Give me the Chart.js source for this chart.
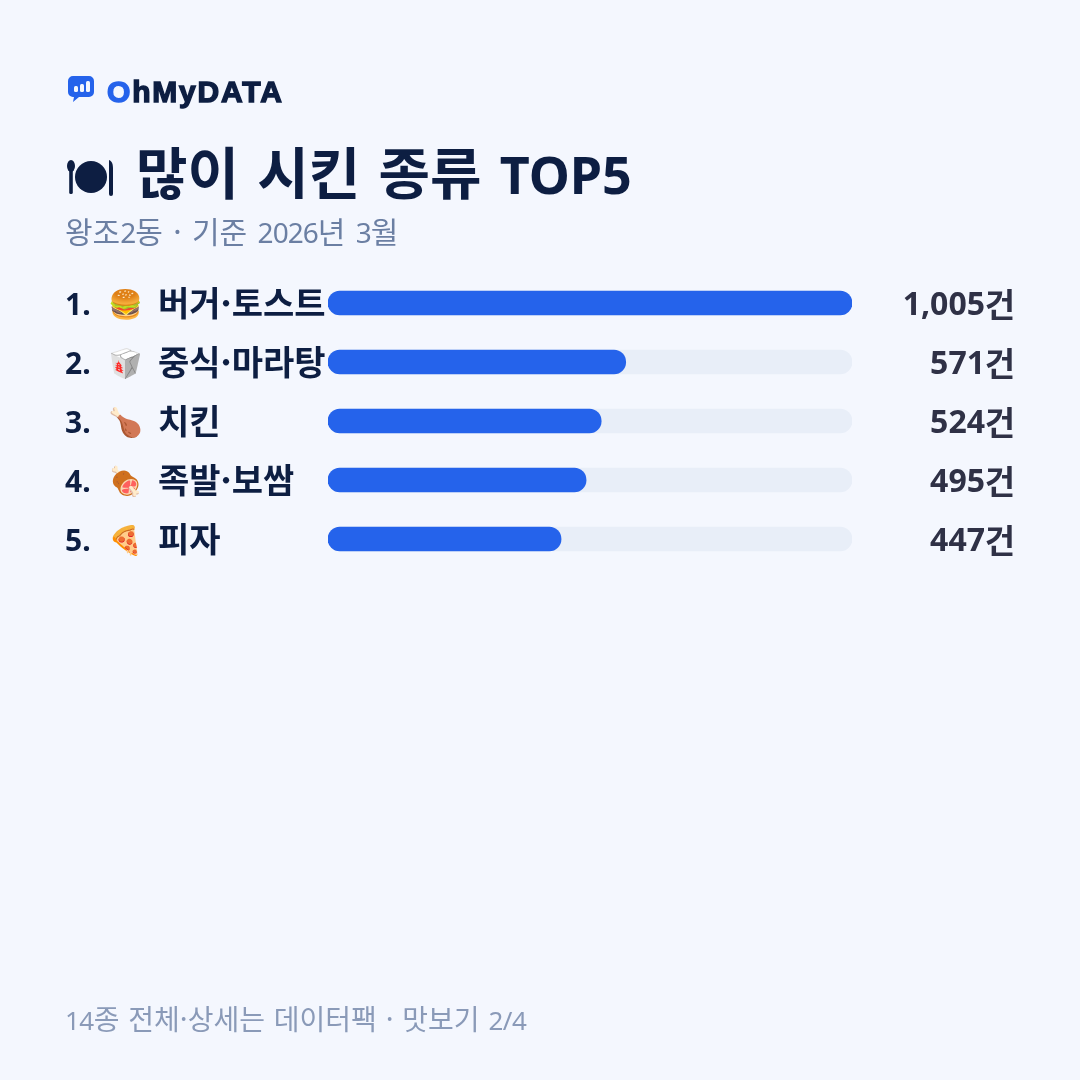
<!DOCTYPE html>
<html lang="ko">
<head>
<meta charset="utf-8">
<title>많이 시킨 종류 TOP5</title>
<script src="https://cdn.jsdelivr.net/npm/chart.js@4"></script>
<style>
  html, body { margin: 0; padding: 0; background: #f4f7fe; }
  #card { position: relative; width: 1080px; height: 1080px; overflow: hidden; background: #f4f7fe;
          font-family: "Noto Sans CJK KR", "Noto Sans", sans-serif; }
  #card canvas { position: absolute; left: 0; top: 0; }
  .abs { position: absolute; white-space: nowrap; line-height: 1; }
  .lat { font-family: "Noto Sans", sans-serif; }
  #brand { left: 107px; top: 75px; font: 700 30px "Liberation Sans", sans-serif; color: #0d1e42;
           -webkit-text-stroke: 1.4px currentColor; letter-spacing: 1.8px; }
  #brand b { color: #2563eb; }
  #title { left: 136px; top: 142px; font-size: 56px; font-weight: 700; color: #0d1e42; word-spacing: 2.5px; }
  #title .lat { font-size: 52px; }
  #sub { left: 65px; top: 215px; font-size: 30px; color: #6b7fa3; word-spacing: 2px; }
  #sub .lat { font-size: 28px; letter-spacing: -1px; }
  #foot { left: 65px; top: 1004px; font-size: 28px; color: #8a9ab8; word-spacing: 1px; }
  #foot .lat { font-size: 26px; letter-spacing: -.5px; }
  #logo { position: absolute; left: 68px; top: 76px; }
  #plate { position: absolute; left: 65px; top: 155px; }
</style>
</head>
<body>
<div id="card">
  <canvas id="chart" width="1080" height="1080"></canvas>
  <svg id="logo" width="26" height="26" viewBox="0 0 26 26">
    <path fill="#2563eb" d="M5 0h16a5 5 0 0 1 5 5v11a5 5 0 0 1-5 5H11l-6 5 1-5H5a5 5 0 0 1-5-5V5a5 5 0 0 1 5-5z"/>
    <rect x="6" y="10" width="4" height="6" rx="1.5" fill="#f4f7fe"/>
    <rect x="12" y="8" width="4" height="8" rx="1.5" fill="#f4f7fe"/>
    <rect x="18" y="5" width="4" height="11" rx="1.5" fill="#f4f7fe"/>
  </svg>
  <div id="brand" class="abs"><b>O</b>hMyDATA</div>
  <svg id="plate" width="50" height="42" viewBox="0 0 50 42" role="img" aria-label="접시와 수저">
    <g fill="#0d1e42">
      <ellipse cx="6" cy="11" rx="4" ry="6"/>
      <rect x="4.2" y="14" width="3.6" height="25" rx="1.6"/>
      <circle cx="26" cy="22" r="16"/>
      <path d="M44 5c3 1 4 4 4 9v25a2 2 0 0 1-4 0z"/>
    </g>
  </svg>
  <div id="title" class="abs">많이 시킨 종류 <span class="lat">TOP5</span></div>
  <div id="sub" class="abs">왕조<span class="lat">2</span>동 · 기준 <span class="lat">2026</span>년 <span class="lat">3</span>월</div>
  <div id="foot" class="abs"><span class="lat">14</span>종 전체·상세는 데이터팩 · 맛보기 <span class="lat">2/4</span></div>
</div>
<script>
const categories = ["버거·토스트", "중식·마라탕", "치킨", "족발·보쌈", "피자"];
const ranks = ["1.", "2.", "3.", "4.", "5."];
const icons = ["🍔", "🥡", "🍗", "🍖", "🍕"];
const orders = [1005, 571, 524, 495, 447];
const trackValues = [1005, 1005, 1005, 1005, 1005];
const valueLabels = ["1,005", "571", "524", "495", "447"];
const unitLabel = "건";

// Rank, emoji and name to the left of each bar, count to the right.
const rowText = {
  id: "rowText",
  afterDraw(chart) {
    const { ctx, scales: { y } } = chart;
    const LATIN = '"Noto Sans", sans-serif';
    const HANGUL = '"Noto Sans CJK KR", sans-serif';
    ctx.save();
    ctx.textBaseline = "middle";
    categories.forEach((name, i) => {
      const cy = y.getPixelForValue(i);
      ctx.fillStyle = "#0d1e42";
      ctx.textAlign = "left";
      ctx.font = "700 30px " + LATIN;
      ctx.fillText(ranks[i], 65, cy + 3);
      ctx.font = "28px " + LATIN;
      ctx.fillText(icons[i], 108, cy + 3);
      ctx.font = "700 34px " + HANGUL;
      ctx.fillText(name, 158, cy);
      ctx.fillStyle = "#2f3146";
      ctx.textAlign = "right";
      ctx.font = "700 32px " + LATIN;
      ctx.fillText(valueLabels[i], 985, cy + 3);
      ctx.font = "700 33px " + HANGUL;
      ctx.fillText(unitLabel, 1015, cy + 1);
    });
    ctx.restore();
  }
};

new Chart(document.getElementById("chart"), {
  type: "bar",
  data: {
    labels: categories,
    datasets: [
      { label: "주문 건수", data: orders, backgroundColor: "#2563eb", order: 1, grouped: false,
        borderRadius: 12, borderSkipped: false, barThickness: 24 },
      { label: "트랙", data: trackValues, backgroundColor: "#e8eef8", order: 2, grouped: false,
        borderRadius: 12, borderSkipped: false, barThickness: 24 }
    ]
  },
  options: {
    indexAxis: "y",
    responsive: false,
    animation: false,
    layout: { padding: { left: 328, right: 228, top: 273.5, bottom: 511.5 } },
    plugins: { legend: { display: false }, tooltip: { enabled: false } },
    scales: {
      x: { display: false, min: 0, max: 1005 },
      y: { display: false }
    }
  },
  plugins: [rowText]
});
</script>
</body>
</html>
